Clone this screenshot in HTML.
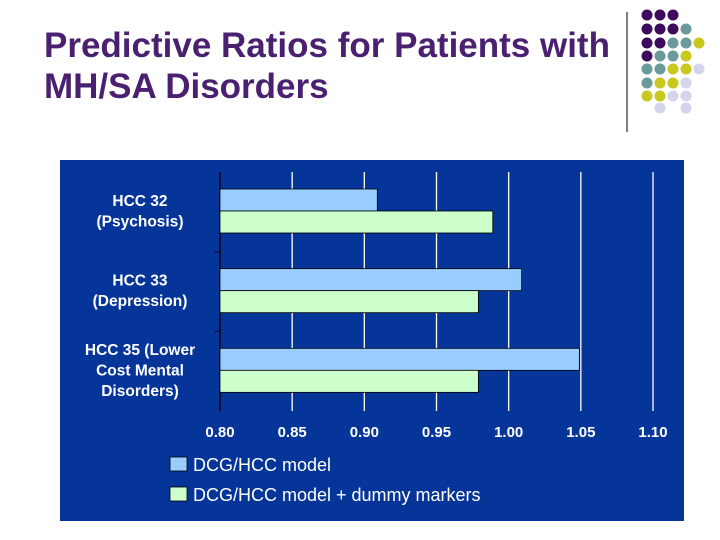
<!DOCTYPE html>
<html><head><meta charset="utf-8"><style>
body{margin:0;width:720px;height:540px;background:#fff;overflow:hidden;position:relative;font-family:"Liberation Sans",sans-serif}
#title{position:absolute;left:44px;top:25px;font-size:35px;line-height:41px;color:#4a2070;margin:0;font-weight:bold;white-space:nowrap}
</style></head><body>
<h1 id="title">Predictive Ratios for Patients with<br>MH/SA Disorders</h1>
<svg width="720" height="540" style="position:absolute;left:0;top:0" id="svg">
<line x1="627" y1="12" x2="627" y2="132" stroke="#000" stroke-width="1"/>
<g id="dots"></g>
<rect x="60" y="160" width="624" height="361" fill="#06359a"/>
<g id="plot"></g>
</svg>
<script>
const categories=[["HCC 32","(Psychosis)"],["HCC 33","(Depression)"],["HCC 35 (Lower","Cost Mental","Disorders)"]];
const seriesNames=["DCG/HCC model","DCG/HCC model + dummy markers"];
const modelValues=[0.909,1.009,1.049];
const dummyValues=[0.989,0.979,0.979];
const ticks=[0.80,0.85,0.90,0.95,1.00,1.05,1.10];
const ns="http://www.w3.org/2000/svg";
function mk(t,a,p){const e=document.createElementNS(ns,t);for(const k in a)e.setAttribute(k,a[k]);p.appendChild(e);return e;}
const x0=220,x1=653,xmin=0.8,xmax=1.1,yTop=172,yBot=411;
const X=v=>x0+(v-xmin)/(xmax-xmin)*(x1-x0);
const plot=document.getElementById('plot');
ticks.forEach((t,i)=>{
 if(i>0){const g=mk('line',{x1:X(t),x2:X(t),y1:yTop,y2:yBot,stroke:'#fff','stroke-width':1.3},plot);
 
 }
 const l=mk('text',{x:X(t),y:437,'text-anchor':'middle',fill:'#fff','font-size':15,'font-weight':'bold'},plot);
 l.textContent=t.toFixed(2);
 
 
});
const ax=mk('line',{x1:x0,x2:x0,y1:yTop,y2:yBot,stroke:'#000','stroke-width':1.3},plot);


const band=(yBot-yTop)/3;
categories.forEach((c,i)=>{
 const by=yTop+band*i;
 if(i>0){const tk=mk('line',{x1:x0-5,x2:x0,y1:by,y2:by,stroke:'#000'},plot);
 
 }
 const yb=by+17,h=22;
 const b1=mk('rect',{x:x0,y:yb,width:X(modelValues[i])-x0,height:h,fill:'#99ccff',stroke:'#000','stroke-width':0.8},plot);
 
 
 const b2=mk('rect',{x:x0,y:yb+h,width:X(dummyValues[i])-x0,height:h,fill:'#ccffcc',stroke:'#000','stroke-width':0.8},plot);
 
 
 const cy=yb+h,lh=20.5,sy=cy-(c.length-1)*lh/2+5;
 c.forEach((s,j)=>{const t=mk('text',{x:140,y:sy+j*lh,'text-anchor':'middle',fill:'#fff','font-size':15.5,'font-weight':'bold'},plot);
 t.textContent=s;
 
 });
});
const lc=['#99ccff','#ccffcc'];
seriesNames.forEach((n,i)=>{
 const y=457+i*30;
 const r=mk('rect',{x:170,y:y,width:17,height:14,fill:lc[i],stroke:'#000','stroke-width':0.8},plot);
 
 
 const t=mk('text',{x:193,y:y+14,fill:'#fff','font-size':18},plot);
 t.textContent=n;
 
 
});
const dotRows=["PPP..","PPPT.","PPTTY","PTTY.","TTYYL","TYYL.","YYLL.",".L.L."];
const dc={P:'#3d0a5e',T:'#6a9a9a',Y:'#c8c820',L:'#d4d4ea'};
const dg=document.getElementById('dots');
const dys=[15,29,43,56,69,83,96,108];
dotRows.forEach((r,ri)=>{[...r].forEach((ch,ci)=>{if(ch==='.')return;
 const d=mk('circle',{cx:647+ci*13,cy:dys[ri],r:5.5,fill:dc[ch]},dg);
 
 });});
</script>
</body></html>
